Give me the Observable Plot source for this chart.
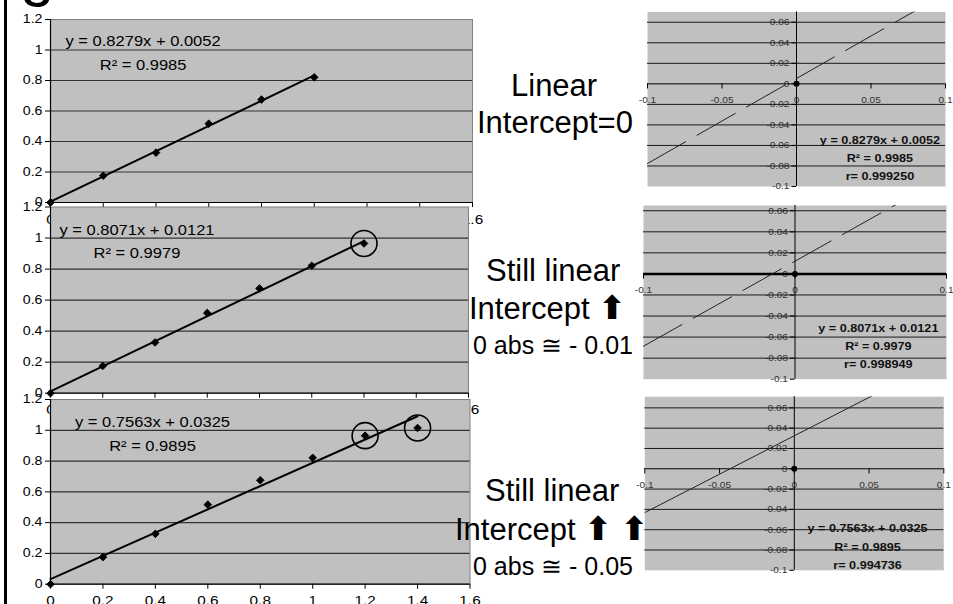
<!DOCTYPE html>
<html><head><meta charset="utf-8">
<script src="https://cdn.jsdelivr.net/npm/d3@7"></script>
<script src="https://cdn.jsdelivr.net/npm/@observablehq/plot@0.6"></script>
<style>
html,body{margin:0;padding:0;background:#fff;}
#stage{position:relative;width:953px;height:604px;overflow:hidden;font-family:"Liberation Sans",Arial,sans-serif;background:#fff;}
.note{position:absolute;white-space:nowrap;color:#000;line-height:1;transform:translateY(-50%);font-size:31px;z-index:10;}
.note.small{font-size:25px;}
.arrow{font-family:"DejaVu Sans",sans-serif;font-weight:bold;font-size:33px;line-height:1;}
#border{position:absolute;left:4px;top:0;width:3px;height:604px;background:#000;z-index:11;}
#glyph{position:absolute;left:20px;top:-58px;font-size:62px;line-height:1;z-index:1;}
</style></head><body>
<div id="stage"><div id="border"></div><div id="glyph">g</div></div>
<script>
// ---- data ----
const conc = [0, 0.2, 0.4, 0.6, 0.8, 1.0, 1.2, 1.4];
const absorb = [0, 0.176, 0.327, 0.517, 0.675, 0.821, 0.965, 1.015];
const pointsUsed = [6, 7, 8];
const slopes = [0.8279, 0.8071, 0.7563];
const intercepts = [0.0052, 0.0121, 0.0325];
const slopeLabels = ["0.8279", "0.8071", "0.7563"];
const interceptLabels = ["0.0052", "0.0121", "0.0325"];
const rSquared = ["0.9985", "0.9979", "0.9895"];
const rValues = ["0.999250", "0.998949", "0.994736"];
const circled = [[], [1.2], [1.2, 1.4]];

const xTicksLeft = [0, 0.2, 0.4, 0.6, 0.8, 1, 1.2, 1.4, 1.6];
const xTickLabelsLeft = ["0", "0.2", "0.4", "0.6", "0.8", "1", "1.2", "1.4", "1.6"];
const yTicksLeft = [0, 0.2, 0.4, 0.6, 0.8, 1, 1.2];
const yTickLabelsLeft = ["0", "0.2", "0.4", "0.6", "0.8", "1", "1.2"];

const xTicksRight = [[-0.1, -0.05, 0, 0.05, 0.1], [-0.1, 0, 0.1], [-0.1, -0.05, 0, 0.05, 0.1]];
const xTickLabelsRight = [["-0.1", "-0.05", "0", "0.05", "0.1"], ["-0.1", "0", "0.1"], ["-0.1", "-0.05", "0", "0.05", "0.1"]];
const yTicksRight = [-0.1, -0.08, -0.06, -0.04, -0.02, 0, 0.02, 0.04, 0.06];
const yTickLabelsRight = ["-0.1", "-0.08", "-0.06", "-0.04", "-0.02", "0", "0.02", "0.04", "0.06"];
const gridRight = [-0.08, -0.06, -0.04, -0.02, 0.02, 0.04, 0.06];
const gridLeft = [0.2, 0.4, 0.6, 0.8, 1];

// ---- layout ----
const leftBoxes = [
  {top: 0, w: 490, h: 240, ml: 50, mr: 18, mt: 19, mb: 38, ex: 0.351, ey: 0.997},
  {top: 200, w: 490, h: 240, ml: 50, mr: 22, mt: 6.5, mb: 47.3, ex: 0.331, ey: 0.994},
  {top: 390, w: 490, h: 214, ml: 50, mr: 20.5, mt: 9, mb: 20.3, ex: 0.389, ey: 0.992}
];
const rightBoxes = [
  {left: 600, top: 0, w: 353, h: 200, ml: 47, mr: 8, mt: 11.5, mb: 14, ymax: 0.07, tx: 0.056, ty: -0.0706},
  {left: 600, top: 195, w: 353, h: 190, ml: 43, mr: 7, mt: 10, mb: 6.3, ymax: 0.065, tx: 0.055, ty: -0.0667},
  {left: 600, top: 390, w: 353, h: 214, ml: 44.3, mr: 9.7, mt: 6.2, mb: 34.2, ymax: 0.071, tx: 0.049, ty: -0.0749}
];

const stage = document.getElementById("stage");
const FONT = "Liberation Sans, Arial, sans-serif";

function stretch(svg, s) {
  d3.select(svg).selectAll("text").each(function () {
    const t = this.getAttribute("transform") || "";
    this.setAttribute("transform", t + ` scale(${s},1)`);
  });
}
function place(svg, left, top) {
  svg.style.position = "absolute";
  svg.style.left = left + "px";
  svg.style.top = top + "px";
  svg.style.zIndex = 2;
  stage.appendChild(svg);
}

const xLabLeft = new Map(xTicksLeft.map((d, i) => [d, xTickLabelsLeft[i]]));
const yLabLeft = new Map(yTicksLeft.map((d, i) => [d, yTickLabelsLeft[i]]));

leftBoxes.forEach((b, i) => {
  const n = pointsUsed[i];
  const pts = conc.slice(0, n).map((x, j) => ({x, y: absorb[j]}));
  const xEnd = conc[n - 1];
  const fit = [{x: 0, y: intercepts[i]}, {x: xEnd, y: slopes[i] * xEnd + intercepts[i]}];
  const circ = pts.filter(p => circled[i].includes(p.x));
  const eq = `y = ${slopeLabels[i]}x + ${interceptLabels[i]}\nR² = ${rSquared[i]}`;
  const svg = Plot.plot({
    width: b.w, height: b.h,
    marginLeft: b.ml, marginRight: b.mr, marginTop: b.mt, marginBottom: b.mb,
    style: {background: "transparent", fontFamily: FONT, overflow: "visible"},
    x: {domain: [0, 1.6]},
    y: {domain: [0, 1.2]},
    marks: [
      Plot.frame({fill: "#c0c0c0", stroke: "#808080"}),
      Plot.ruleY(gridLeft, {stroke: "#333", strokeWidth: 1.2}),
      Plot.ruleY([0], {stroke: "#000", strokeWidth: 1.2}),
      Plot.ruleX([0], {stroke: "#000", strokeWidth: 1.2}),
      Plot.axisY(yTicksLeft, {tickSize: 5, tickPadding: 3, fontSize: 12, tickFormat: d => yLabLeft.get(d), color: "#000", label: null}),
      Plot.axisX(xTicksLeft, {tickSize: 5, tickPadding: 7, fontSize: 13, tickFormat: d => xLabLeft.get(d), color: "#000", label: null}),
      Plot.line(fit, {x: "x", y: "y", stroke: "#000", strokeWidth: 2}),
      Plot.dot(pts, {x: "x", y: "y", symbol: "diamond2", r: 3.4, fill: "#000", stroke: "#000", strokeWidth: 1}),
      Plot.dot(circ, {x: "x", y: "y", r: 13, stroke: "#000", strokeWidth: 1.6, fill: "none"}),
      Plot.text([eq], {x: b.ex, y: b.ey, text: d => d, fontSize: 14, lineHeight: 1.7, textAnchor: "middle", lineAnchor: "middle", fill: "#000"})
    ]
  });
  stretch(svg, 1.18);
  place(svg, 0, b.top);
});

rightBoxes.forEach((b, i) => {
  const fit = [{x: -0.1, y: slopes[i] * -0.1 + intercepts[i]}, {x: 0.1, y: slopes[i] * 0.1 + intercepts[i]}];
  const eq = `y = ${slopeLabels[i]}x + ${interceptLabels[i]}\nR² = ${rSquared[i]}\nr= ${rValues[i]}`;
  const lineOpts = {x: "x", y: "y", stroke: "#222", strokeWidth: 1, clip: true};
  if (i < 2) lineOpts.strokeDasharray = "44,13";
  const svg = Plot.plot({
    width: b.w, height: b.h,
    marginLeft: b.ml, marginRight: b.mr, marginTop: b.mt, marginBottom: b.mb,
    style: {background: "transparent", fontFamily: FONT, overflow: "visible"},
    x: {domain: [-0.1, 0.1], axis: null},
    y: {domain: [-0.1, b.ymax], axis: null},
    marks: [
      Plot.frame({fill: "#c0c0c0", stroke: "none"}),
      Plot.text(yTicksRight, {x: 0, y: d => d, text: (d, j) => yTickLabelsRight[j], dx: -7, textAnchor: "end", fontSize: 8.8, fill: "#333"}),
      Plot.text(xTicksRight[i], {x: d => d, y: 0, text: (d, j) => xTickLabelsRight[i][j], dy: 16, fontSize: 8.8, fill: "#333"}),
      Plot.ruleY(gridRight, {stroke: "#1a1a1a", strokeWidth: 1}),
      Plot.ruleY([0], {stroke: "#000", strokeWidth: i === 1 ? 2.5 : 1}),
      Plot.ruleX([0], {stroke: "#000", strokeWidth: 1}),
      Plot.ruleY(yTicksRight, {y: d => d, x1: -0.003, x2: 0, stroke: "#000"}),
      Plot.ruleX(xTicksRight[i], {x: d => d, y1: 0, y2: -0.005, stroke: "#000"}),
      Plot.line(fit, lineOpts),
      Plot.dot([{x: 0, y: 0}], {x: "x", y: "y", r: 3, fill: "#000"}),
      Plot.text([eq], {x: b.tx, y: b.ty, text: d => d, fontSize: 11, fontWeight: "bold", lineHeight: 1.66, textAnchor: "middle", lineAnchor: "middle", fill: "#111"})
    ]
  });
  stretch(svg, 1.15);
  place(svg, b.left, b.top);
});

// ---- annotations between the columns ----
const notes = [
  {text: "Linear", left: 511, cy: 85},
  {text: "Intercept=0", left: 477, cy: 122},
  {text: "Still linear", left: 486, cy: 270},
  {html: 'Intercept <span class="arrow">⬆</span>', left: 469, cy: 307},
  {text: "0 abs ≅ - 0.01", left: 473, cy: 345, small: true},
  {text: "Still linear", left: 485, cy: 490},
  {html: 'Intercept <span class="arrow">⬆</span> <span class="arrow">⬆</span>', left: 455, cy: 528},
  {text: "0 abs ≅ - 0.05", left: 473, cy: 566, small: true}
];
notes.forEach(n => {
  const d = document.createElement("div");
  d.className = "note" + (n.small ? " small" : "");
  d.style.left = n.left + "px";
  d.style.top = n.cy + "px";
  if (n.html) d.innerHTML = n.html; else d.textContent = n.text;
  stage.appendChild(d);
});
</script>
</body></html>
